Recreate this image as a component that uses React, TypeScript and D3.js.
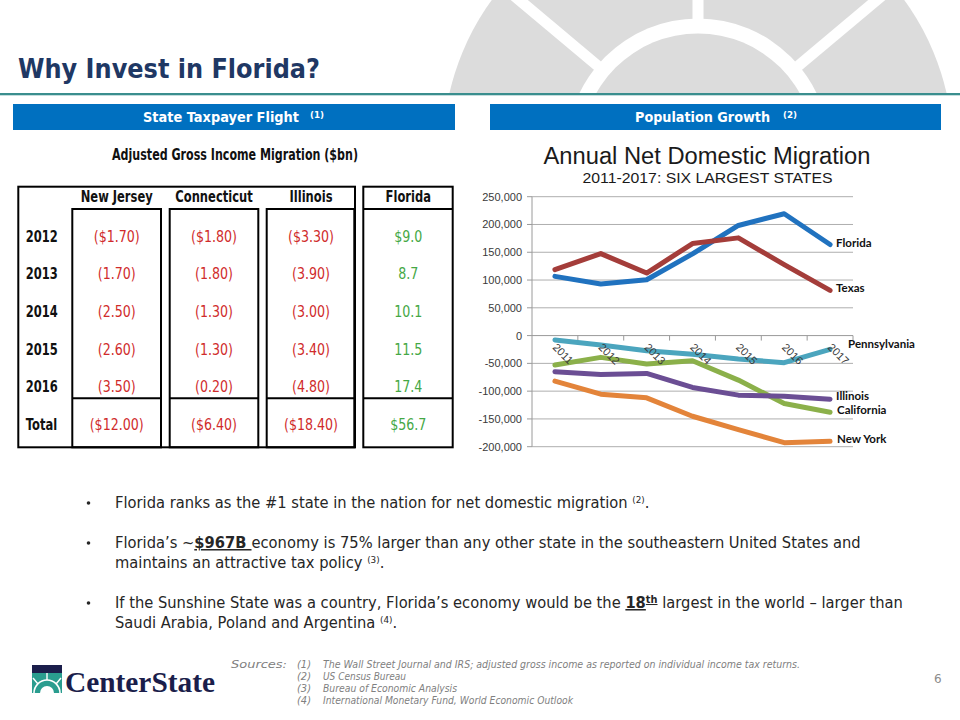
import React from "react";
import * as d3 from "d3";

// ---------- chart data ----------
const years = ["2011", "2012", "2013", "2014", "2015", "2016", "2017"];
const florida = [106600, 92800, 100600, 147000, 198200, 219300, 163900];
const texas = [118700, 147600, 112600, 165700, 175900, 127700, 81300];
const pennsylvania = [-7800, -16900, -27100, -33700, -42200, -48800, -24700];
const california = [-53000, -39200, -51200, -45200, -80100, -122300, -137900];
const illinois = [-65000, -69900, -68100, -93400, -107200, -109100, -114500];
const newYork = [-81900, -105400, -112000, -145200, -169300, -192800, -190400];
const yTicks = [250000, 200000, 150000, 100000, 50000, 0, -50000, -100000, -150000, -200000];

// ---------- table data ----------
const tableYears = ["2012", "2013", "2014", "2015", "2016"];
const tableStates = ["New Jersey", "Connecticut", "Illinois"];
const njFlows = [-1.7, -1.7, -2.5, -2.6, -3.5];
const ctFlows = [-1.8, -1.8, -1.3, -1.3, -0.2];
const ilFlows = [-3.3, -3.9, -3.0, -3.4, -4.8];
const flFlows = [9.0, 8.7, 10.1, 11.5, 17.4];

const SANS = "'Liberation Sans', Arial, sans-serif";
const VERD = "'DejaVu Sans', Verdana, sans-serif";

function fmtNeg(v: number, dollar: boolean) {
  return "(" + (dollar ? "$" : "") + Math.abs(v).toFixed(2) + ")";
}
function fmtPos(v: number, dollar: boolean) {
  return (dollar ? "$" : "") + v.toFixed(1);
}

function Background() {
  const cx = 698, cy = 150;
  const spokes = [-50, 0, 50];
  return (
    <g clipPath="url(#topclip)">
      <circle cx={cx} cy={cy} r={255} fill="#DCDCDC" />
      {spokes.map((a) => {
        const rad = (a * Math.PI) / 180;
        return (
          <line key={a}
            x1={cx + Math.sin(rad) * 120} y1={cy - Math.cos(rad) * 120}
            x2={cx + Math.sin(rad) * 300} y2={cy - Math.cos(rad) * 300}
            stroke="#fff" strokeWidth={11} />
        );
      })}
      <circle cx={cx} cy={cy} r={131.5} fill="#fff" />
      <circle cx={cx} cy={cy} r={116.5} fill="#DCDCDC" />
    </g>
  );
}

function Table() {
  const colCx = [116.7, 214, 311];
  const flCx = 408.3;
  const rowBase = [241.7, 279.3, 317.3, 355, 391.7];
  const totalBase = 430;
  const red = "#D02B2B", green = "#45A845";
  const cols = [njFlows, ctFlows, ilFlows];
  const boxes = [[72.3, 161], [169.7, 258.3], [266.7, 354.3]];
  const S = (x: number, yy: number, txt: string, color = "#111", anchor = "middle", bold = false) => (
    <text key={txt + x + yy} transform={`translate(${x},${yy}) scale(${bold ? 0.72 : 0.79},1)`} textAnchor={anchor}
      fontFamily={VERD} fontSize={16} fill={color} fontWeight={bold ? "bold" : "normal"}>{txt}</text>
  );
  return (
    <g>
      <text x={235} y={160} textAnchor="middle" fontFamily={VERD} fontWeight="bold" fontSize={16} fill="#111"
        textLength={246} lengthAdjust="spacingAndGlyphs">Adjusted Gross Income Migration ($bn)</text>
      <rect x={18.3} y={186.7} width={355 - 18.3} height={447.3 - 186.7} fill="none" stroke="#000" strokeWidth={2} />
      {boxes.map(([a, b], i) => (
        <g key={i}>
          <rect x={a} y={209} width={b - a} height={447.3 - 209} fill="none" stroke="#000" strokeWidth={2} />
          <line x1={a} x2={b} y1={398.3} y2={398.3} stroke="#000" strokeWidth={2} />
        </g>
      ))}
      <rect x={363.3} y={186.7} width={452.7 - 363.3} height={447.3 - 186.7} fill="none" stroke="#000" strokeWidth={2} />
      <line x1={363.3} x2={452.7} y1={209} y2={209} stroke="#000" strokeWidth={2} />
      <line x1={363.3} x2={452.7} y1={398.3} y2={398.3} stroke="#000" strokeWidth={2} />
      {tableStates.map((s, i) => S(colCx[i], 201.7, s, "#111", "middle", true))}
      {S(flCx, 201.7, "Florida", "#111", "middle", true)}
      {tableYears.map((yr, r) => S(25.7, rowBase[r], yr, "#111", "start", true))}
      {S(25.7, totalBase, "Total", "#111", "start", true)}
      {cols.map((vals, c) => (
        <g key={c}>
          {vals.map((v, r) => S(colCx[c], rowBase[r], fmtNeg(v, r === 0), red))}
          {S(colCx[c], totalBase, fmtNeg(d3.sum(vals), true), red)}
        </g>
      ))}
      {flFlows.map((v, r) => S(flCx, rowBase[r], fmtPos(v, r === 0), green))}
      {S(flCx, totalBase, fmtPos(d3.sum(flFlows), true), green)}
    </g>
  );
}

function Chart() {
  const x = d3.scaleBand<string>().domain(years).range([532, 853]).padding(0);
  const y = d3.scaleLinear().domain([-200000, 250000]).range([446.7, 196.7]);
  const cxOf = (i: number) => (x(years[i]) as number) + x.bandwidth() / 2;
  const line = d3.line<number>().x((_, i) => cxOf(i)).y((d) => y(d));
  const series = [
    { name: "Florida", values: florida, color: "#2072BF", dx: 6, dy: -2 },
    { name: "Texas", values: texas, color: "#A43D3A", dx: 6, dy: -2 },
    { name: "Pennsylvania", values: pennsylvania, color: "#4BA5BE", dx: 18, dy: -5 },
    { name: "California", values: california, color: "#8BB04A", dx: 7, dy: -2 },
    { name: "Illinois", values: illinois, color: "#6B4E94", dx: 6, dy: -3 },
    { name: "New York", values: newYork, color: "#E3843A", dx: 7, dy: -2 },
  ];
  const y0 = y(0);
  const fmt = (v: number) => d3.format(",")(v).replace("\u2212", "-");
  const bounds = years.map((yr) => (x(yr) as number) + x.bandwidth());
  return (
    <g>
      <text x={707} y={163.5} textAnchor="middle" fontFamily={SANS} fontSize={23} fill="#1a1a1a"
        textLength={327} lengthAdjust="spacingAndGlyphs">Annual Net Domestic Migration</text>
      <text x={707.5} y={183.3} textAnchor="middle" fontFamily={SANS} fontSize={14} fill="#1a1a1a"
        textLength={250} lengthAdjust="spacingAndGlyphs">2011-2017: SIX LARGEST STATES</text>
      {yTicks.map((t) => (
        <g key={t}>
          <line x1={532} x2={853} y1={y(t)} y2={y(t)} stroke={t === 0 ? "#9a9a9a" : "#AEAEAE"} strokeWidth={1} />
          <line x1={527} x2={532} y1={y(t)} y2={y(t)} stroke="#9a9a9a" />
          <text x={522} y={y(t) + 4} textAnchor="end" fontFamily={SANS} fontSize={11} fill="#3a3a3a">{fmt(t)}</text>
        </g>
      ))}
      <line x1={532} x2={532} y1={y(250000)} y2={y(-200000)} stroke="#9a9a9a" />
      {bounds.map((b, i) => (
        <line key={i} x1={b} x2={b} y1={y0} y2={y0 + 5} stroke="#9a9a9a" />
      ))}
      {series.map((s) => (
        <path key={s.name} d={line(s.values) as string} fill="none" stroke={s.color} strokeWidth={5}
          strokeLinejoin="round" strokeLinecap="round" />
      ))}
      {years.map((yr, i) => (
        <text key={yr} transform={`translate(${cxOf(i) - 3},${348}) rotate(45)`} fontFamily={SANS}
          fontSize={11} fill="#3a3a3a">{yr}</text>
      ))}
      {series.map((s) => (
        <text key={s.name} x={cxOf(6) + s.dx} y={y(s.values[6]) + s.dy + 4} fontFamily="Lato, 'Open Sans', sans-serif"
          fontWeight="bold" fontSize={11.5} fill="#111">{s.name}</text>
      ))}
    </g>
  );
}

function Bullets() {
  const c = "#262626";
  const bx = 86;
  const tx = 115;
  const s = 0.98;
  const L = (yb: number, kids: React.ReactNode) => (
    <text transform={`translate(${tx},${yb}) scale(${s},1)`}>{kids}</text>
  );
  return (
    <g fontFamily={VERD} fontSize={15} fill={c}>
      {[508, 548, 608].map((b) => (
        <circle key={b} cx={bx + 2.5} cy={b - 5} r={1.8} fill={c} />
      ))}
      {L(508, <>Florida ranks as the #1 state in the nation for net domestic migration <tspan fontSize={9} dy={-5}>(2)</tspan><tspan dy={5}>.</tspan></>)}
      {L(548, <>Florida’s ~<tspan fontWeight="bold" textDecoration="underline">$967B </tspan>economy is 75% larger than any other state in the southeastern United States and</>)}
      {L(568, <>maintains an attractive tax policy <tspan fontSize={9} dy={-5}>(3)</tspan><tspan dy={5}>.</tspan></>)}
      {L(608, <>If the Sunshine State was a country, Florida’s economy would be the <tspan fontWeight="bold" textDecoration="underline">18<tspan fontSize={10} dy={-5}>th</tspan></tspan><tspan dy={5}> largest in the world – larger than</tspan></>)}
      {L(628, <>Saudi Arabia, Poland and Argentina <tspan fontSize={9} dy={-5}>(4)</tspan><tspan dy={5}>.</tspan></>)}
    </g>
  );
}

function Footer() {
  const g = "#808080";
  const lines = [
    { n: "(1)", t: "The Wall Street Journal and IRS; adjusted gross income as reported on individual income tax returns.", w: 477 },
    { n: "(2)", t: "US Census Bureau", w: 83 },
    { n: "(3)", t: "Bureau of Economic Analysis", w: 134 },
    { n: "(4)", t: "International Monetary Fund, World Economic Outlook", w: 250 },
  ];
  return (
    <g>
      <g fontFamily={VERD} fontStyle="italic" fontSize={10} fill={g}>
        <text x={231} y={668} textLength={56} lengthAdjust="spacingAndGlyphs">Sources:</text>
        {lines.map((l, i) => (
          <g key={i}>
            <text x={297} y={668 + i * 12} textLength={14} lengthAdjust="spacingAndGlyphs">{l.n}</text>
            <text x={323} y={668 + i * 12} textLength={l.w} lengthAdjust="spacingAndGlyphs">{l.t}</text>
          </g>
        ))}
      </g>
      <text x={934} y={683} fontFamily={VERD} fontSize={12} fill="#8c8c8c">6</text>
      <g>
        <rect x={32} y={665} width={30} height={28} fill="#1B1E4B" />
        <rect x={32} y={673} width={30} height={20} fill="#2A9D8F" />
        <path d="M34,693 A13,13 0 0 1 60,693" fill="none" stroke="#fff" strokeWidth={1.6} />
        <path d="M40,693 A7,7 0 0 1 54,693" fill="#fff" stroke="none" />
        <line x1={47} y1={680} x2={47} y2={673} stroke="#fff" strokeWidth={1.4} />
        <line x1={38} y1={684} x2={33} y2={678} stroke="#fff" strokeWidth={1.4} />
        <line x1={56} y1={684} x2={61} y2={678} stroke="#fff" strokeWidth={1.4} />
        <text x={65} y={692} fontFamily="'Liberation Serif', 'Times New Roman', serif" fontWeight="bold"
          fontSize={29} fill="#1B1E4B" textLength={150} lengthAdjust="spacingAndGlyphs">CenterState</text>
      </g>
    </g>
  );
}

export default function App() {
  return (
    <svg width={960} height={720} viewBox="0 0 960 720"
      style={{ position: "absolute", left: 0, top: 0, background: "#fff" }}>
      <defs>
        <clipPath id="topclip"><rect x={0} y={0} width={960} height={93} /></clipPath>
      </defs>
      <rect x={0} y={0} width={960} height={720} fill="#fff" />
      <Background />
      <rect x={0} y={93} width={960} height={2.3} fill="#3A8E8E" />
      <text x={18} y={78} fontFamily={VERD} fontWeight="bold" fontSize={26} fill="#1F3864"
        textLength={302} lengthAdjust="spacingAndGlyphs">Why Invest in Florida?</text>
      <rect x={13} y={104} width={442} height={26} fill="#0070C0" />
      <rect x={490} y={104} width={451} height={26} fill="#0070C0" />
      <text x={143} y={122.3} fontFamily={VERD} fontWeight="bold" fontSize={14} fill="#fff"
        textLength={156} lengthAdjust="spacingAndGlyphs">State Taxpayer Flight</text>
      <text x={310} y={117.5} fontFamily={VERD} fontWeight="bold" fontSize={8.5} fill="#fff"
        textLength={14} lengthAdjust="spacingAndGlyphs">(1)</text>
      <text x={635} y={122.3} fontFamily={VERD} fontWeight="bold" fontSize={14} fill="#fff"
        textLength={135} lengthAdjust="spacingAndGlyphs">Population  Growth</text>
      <text x={783} y={117.5} fontFamily={VERD} fontWeight="bold" fontSize={8.5} fill="#fff"
        textLength={14} lengthAdjust="spacingAndGlyphs">(2)</text>
      <Table />
      <Chart />
      <Bullets />
      <Footer />
    </svg>
  );
}
